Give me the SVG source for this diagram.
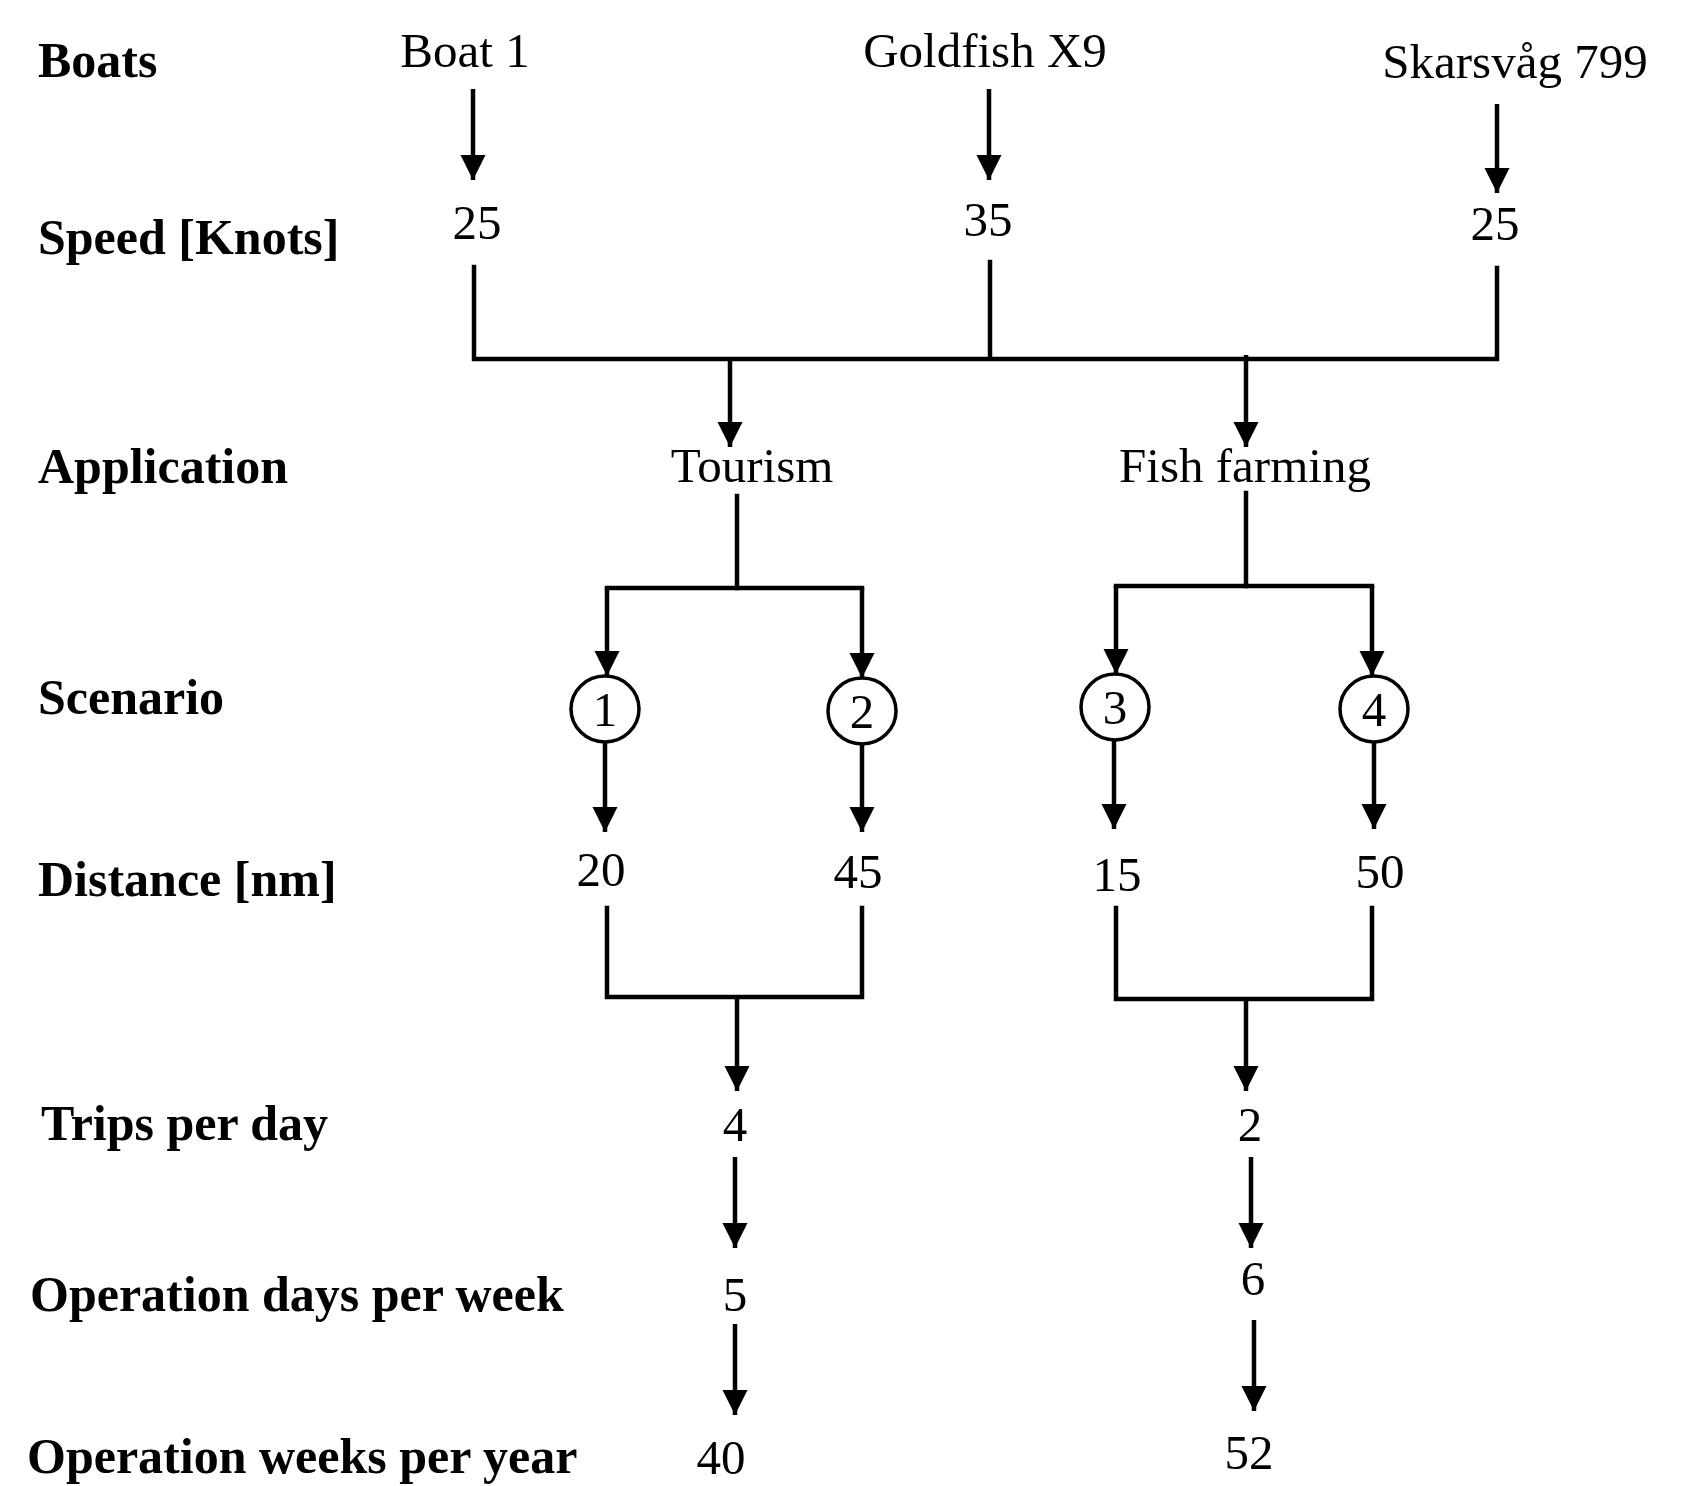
<svg xmlns="http://www.w3.org/2000/svg" width="1699" height="1486" viewBox="0 0 1699 1486">
<style>
.lbl{font-family:"Liberation Serif","Times New Roman",serif;font-weight:bold;font-size:50px;fill:#000}
.val{font-family:"Liberation Serif","Times New Roman",serif;font-size:49px;fill:#000;text-anchor:middle}
.ln{fill:none;stroke:#000;stroke-width:4.5;stroke-linecap:square;stroke-linejoin:miter}
.ar{fill:none;stroke:#000;stroke-width:4.5;marker-end:url(#ah)}
.cir{fill:#fff;stroke:#000;stroke-width:3.5}
</style>
<defs>
<marker id="ah" markerUnits="userSpaceOnUse" markerWidth="26" markerHeight="26" refX="25" refY="12.5" orient="auto">
<path d="M0,0 L25,12.5 L0,25 z" fill="#000"/>
</marker>
</defs>
<rect width="1699" height="1486" fill="#fff"/>
<g id="row-labels">
<text class="lbl" x="38" y="77">Boats</text>
<text class="lbl" x="38" y="254">Speed [Knots]</text>
<text class="lbl" x="38" y="483">Application</text>
<text class="lbl" x="38" y="714">Scenario</text>
<text class="lbl" x="38" y="896">Distance [nm]</text>
<text class="lbl" x="41" y="1140">Trips per day</text>
<text class="lbl" x="30" y="1311">Operation days per week</text>
<text class="lbl" x="27" y="1473">Operation weeks per year</text>
</g>
<g id="connectors">
<path class="ar" d="M473,89 V180"/>
<path class="ar" d="M989,89 V180"/>
<path class="ar" d="M1497,104 V193"/>
<path class="ln" d="M474,267 V359 H1497 V268"/>
<path class="ln" d="M990,262 V357"/>
<path class="ar" d="M730,359 V447"/>
<path class="ar" d="M1246,355 V447"/>
<path class="ln" d="M737,496 V588"/>
<path class="ln" d="M607,588 H862"/>
<path class="ar" d="M607,588 V676"/>
<path class="ar" d="M862,588 V678"/>
<path class="ln" d="M1246,493 V586"/>
<path class="ln" d="M1116,586 H1372"/>
<path class="ar" d="M1116,586 V674"/>
<path class="ar" d="M1372,586 V676"/>
<path class="ar" d="M605,743 V832"/>
<path class="ar" d="M862,745 V832"/>
<path class="ar" d="M1114,741 V829"/>
<path class="ar" d="M1374,743 V829"/>
<path class="ln" d="M607,908 V997 H862 V908"/>
<path class="ar" d="M737,997 V1091"/>
<path class="ln" d="M1116,908 V999 H1372 V908"/>
<path class="ar" d="M1246,999 V1091"/>
<path class="ar" d="M735,1157 V1248"/>
<path class="ar" d="M1251,1157 V1248"/>
<path class="ar" d="M735,1324 V1415"/>
<path class="ar" d="M1254,1320 V1411"/>
</g>
<g id="boat-1"><text class="val" x="465" y="67">Boat 1</text></g>
<g id="boat-goldfish"><text class="val" x="985" y="67">Goldfish X9</text></g>
<g id="boat-skarsvag"><text class="val" x="1515" y="78">Skarsvåg 799</text></g>
<g id="speed-1"><text class="val" x="477" y="239">25</text></g>
<g id="speed-2"><text class="val" x="988" y="236">35</text></g>
<g id="speed-3"><text class="val" x="1495" y="240">25</text></g>
<g id="app-tourism"><text class="val" x="752" y="482">Tourism</text></g>
<g id="app-fish"><text class="val" x="1245" y="482">Fish farming</text></g>
<g id="scenario-1"><ellipse class="cir" cx="605" cy="709" rx="34" ry="33"/><text class="val" x="605" y="726">1</text></g>
<g id="scenario-2"><ellipse class="cir" cx="862" cy="711" rx="34" ry="33"/><text class="val" x="862" y="728">2</text></g>
<g id="scenario-3"><ellipse class="cir" cx="1115" cy="707" rx="34" ry="33"/><text class="val" x="1115" y="724">3</text></g>
<g id="scenario-4"><ellipse class="cir" cx="1374" cy="709" rx="34" ry="33"/><text class="val" x="1374" y="726">4</text></g>
<g id="dist-1"><text class="val" x="601" y="886">20</text></g>
<g id="dist-2"><text class="val" x="858" y="888">45</text></g>
<g id="dist-3"><text class="val" x="1117" y="891">15</text></g>
<g id="dist-4"><text class="val" x="1380" y="888">50</text></g>
<g id="trips-tourism"><text class="val" x="735" y="1141">4</text></g>
<g id="trips-fish"><text class="val" x="1250" y="1141">2</text></g>
<g id="days-tourism"><text class="val" x="735" y="1311">5</text></g>
<g id="days-fish"><text class="val" x="1253" y="1295">6</text></g>
<g id="weeks-tourism"><text class="val" x="721" y="1474">40</text></g>
<g id="weeks-fish"><text class="val" x="1249" y="1469">52</text></g>
</svg>
